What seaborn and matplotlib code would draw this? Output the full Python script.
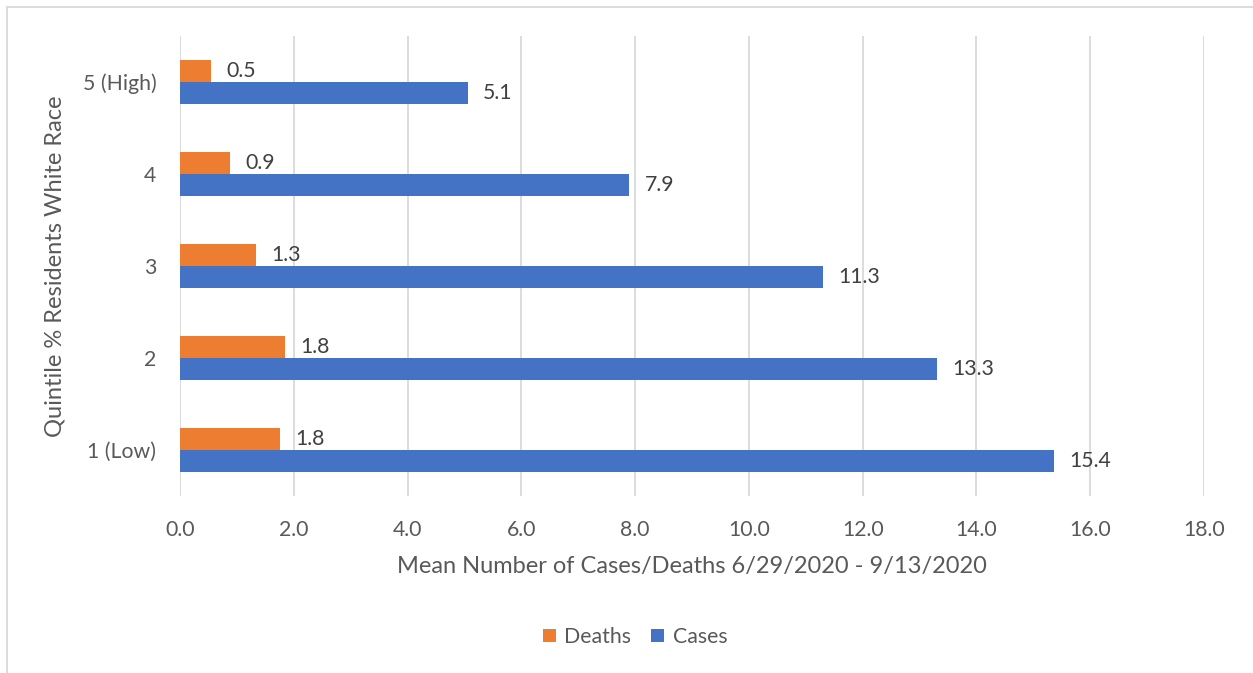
import matplotlib
matplotlib.use("Agg")
import matplotlib.pyplot as plt
import seaborn as sns
import pandas as pd
from matplotlib.patches import Rectangle

categories = ["5 (High)", "4", "3", "2", "1 (Low)"]
deaths = [0.54, 0.88, 1.34, 1.84, 1.76]
cases = [5.06, 7.90, 11.30, 13.31, 15.37]
series_names = ["Deaths", "Cases"]
x_ticks = [0, 2, 4, 6, 8, 10, 12, 14, 16, 18]

df = pd.DataFrame({
    "Quintile": categories * 2,
    "Series": [series_names[0]] * len(categories) + [series_names[1]] * len(categories),
    "Value": deaths + cases,
})

sns.set_theme(style="white")
plt.rcParams['font.family'] = ['Lato', 'DejaVu Sans']

W, H = 1253, 673
fig = plt.figure(figsize=(W / 100, H / 100), dpi=100)
ax = fig.add_axes([180 / W, (H - 496) / H, (1204 - 180) / W, (496 - 36) / H])

palette = {"Deaths": "#ED7D31", "Cases": "#4472C4"}
sns.barplot(data=df, y="Quintile", x="Value", hue="Series", order=categories,
            hue_order=series_names, palette=palette, orient="h", width=0.48,
            ax=ax, saturation=1, linewidth=0, legend=True)

ax.set_xlim(0, 18)
ax.set_ylim(4.5, -0.5)
ax.set_xticks(x_ticks)
ax.set_xticklabels([f"{t:.1f}" for t in x_ticks])
ax.grid(axis="x", color="#D9D9D9", linewidth=1.3)
ax.set_axisbelow(True)
for s in ax.spines.values():
    s.set_visible(False)
ax.tick_params(axis="both", length=0, labelsize=15.3, colors="#595959")
ax.tick_params(axis="x", pad=17)
ax.tick_params(axis="y", pad=17)

ax.set_xlabel("Mean Number of Cases/Deaths 6/29/2020 - 9/13/2020", fontsize=17,
              color="#595959", labelpad=12)
ax.set_ylabel("Quintile % Residents White Race", fontsize=17, color="#595959",
              labelpad=12)

for cont in ax.containers:
    ax.bar_label(cont, labels=[f"{v:.1f}" for v in cont.datavalues], padding=11,
                 fontsize=15.3, color="#404040")

leg = ax.legend(loc="center", ncol=2, frameon=False, fontsize=15.3,
                handlelength=0.62, handleheight=0.62, columnspacing=0.95,
                handletextpad=0.38, labelcolor="#595959")
leg.set_bbox_to_anchor((635 / W, (H - 637) / H), transform=fig.transFigure)

fig.patches.append(Rectangle((7 / W, -0.01), 1.02, (H - 7) / H + 0.01,
                             transform=fig.transFigure, fill=False,
                             edgecolor="#D9D9D9", linewidth=1.3))

fig.savefig("out.png", dpi=100)
